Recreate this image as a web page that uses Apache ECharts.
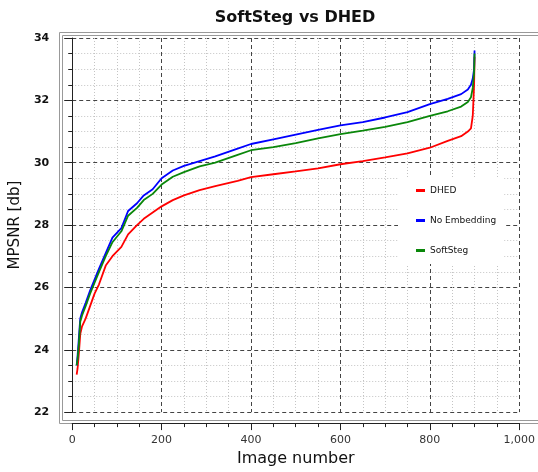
<!DOCTYPE html>
<html>
<head>
<meta charset="utf-8">
<script src="https://cdn.jsdelivr.net/npm/echarts@6/dist/echarts.min.js"></script>
<style>
    html, body { margin: 0; padding: 0; background: #fff; }
    #main { width: 538px; height: 472px; }
</style>
</head>
<body>
<div id="main"></div>
<script>
// image index (sorted by PSNR)
var imageIdx = [10, 12, 15, 18, 22, 30, 40, 50, 60, 75, 90, 110, 125, 145, 160, 180, 200, 225, 250, 285,
    320, 370, 400, 450, 500, 550, 600, 650, 700, 750, 800, 840, 870, 885, 892, 896, 899, 900];

var dhed = [23.2, 23.4, 23.9, 24.5, 24.75, 25.0, 25.4, 25.8, 26.1, 26.7, 27.0, 27.3, 27.7, 28.0, 28.2, 28.4, 28.6, 28.8, 28.95, 29.12,
    29.25, 29.42, 29.54, 29.63, 29.72, 29.82, 29.95, 30.05, 30.17, 30.3, 30.48, 30.7, 30.85, 31.0, 31.1, 31.5, 32.5, 33.4];

var noEmbedding = [23.5, 23.8, 24.4, 25.0, 25.2, 25.5, 25.9, 26.25, 26.6, 27.1, 27.6, 27.9, 28.45, 28.7, 28.95, 29.15, 29.5, 29.75, 29.9, 30.05,
    30.2, 30.45, 30.6, 30.75, 30.9, 31.05, 31.2, 31.3, 31.45, 31.62, 31.88, 32.05, 32.2, 32.35, 32.5, 32.7, 33.0, 33.6];

var softSteg = [23.5, 23.7, 24.2, 24.9, 25.1, 25.4, 25.8, 26.15, 26.5, 27.0, 27.45, 27.8, 28.3, 28.55, 28.8, 29.0, 29.3, 29.55, 29.7, 29.88,
    30.0, 30.25, 30.4, 30.5, 30.63, 30.78, 30.92, 31.03, 31.15, 31.3, 31.5, 31.65, 31.8, 31.95, 32.1, 32.4, 32.9, 33.5];

function pairs(vals) {
    return imageIdx.map(function (x, i) { return [x, vals[i]]; });
}

var myChart = echarts.init(document.getElementById('main'));
myChart.setOption({
    backgroundColor: '#fff',
    animation: false,
    title: {
        text: 'SoftSteg vs DHED',
        left: 290,
        textAlign: 'center',
        top: 5,
        textStyle: { fontFamily: 'DejaVu Sans', fontSize: 16, fontWeight: 'bold', color: '#111' }
    },
    graphic: [
        { type: 'rect', shape: { x: 59.5, y: 32.5, width: 500, height: 391 }, style: { fill: null, stroke: '#999', lineWidth: 1 }, z: 0 },
        { type: 'rect', shape: { x: 62.5, y: 35.5, width: 500, height: 385 }, style: { fill: null, stroke: '#999', lineWidth: 1 }, z: 0 }
    ],
    legend: {
        orient: 'vertical',
        left: 398,
        top: 178,
        backgroundColor: '#fff',
        padding: [8, 8, 9, 18],
        icon: 'rect',
        itemWidth: 9,
        itemHeight: 3,
        itemGap: 21,
        textStyle: { fontFamily: 'DejaVu Sans', fontSize: 9, color: '#111' },
        data: ['DHED', 'No Embedding', 'SoftSteg'],
        z: 5
    },
    grid: { left: 65, right: 15, top: 38, bottom: 55 },
    xAxis: {
        type: 'value',
        min: 0,
        max: 1000,
        interval: 200,
        offset: 11,
        name: 'Image number',
        nameLocation: 'middle',
        nameGap: 25,
        nameTextStyle: { fontFamily: 'DejaVu Sans', fontSize: 16, color: '#111' },
        axisLine: { show: true, lineStyle: { color: '#222', width: 1 } },
        axisTick: { show: true, length: 7, lineStyle: { color: '#222' } },
        minorTick: { show: true, splitNumber: 4, length: 4, lineStyle: { color: '#222' } },
        axisLabel: {
            margin: 12,
            fontFamily: 'DejaVu Sans',
            fontSize: 11,
            color: '#333',
            formatter: function (v) { return String(v).replace(/\B(?=(\d{3})+(?!\d))/g, ','); }
        },
        splitLine: { show: true, lineStyle: { color: '#444', type: [4, 3], width: 1 } },
        minorSplitLine: { show: true, lineStyle: { color: '#c4c4c4', type: [1, 2], width: 1 } }
    },
    yAxis: {
        type: 'value',
        min: 22,
        max: 34,
        interval: 2,
        offset: 10,
        name: 'MPSNR [db]',
        nameLocation: 'middle',
        nameGap: 34,
        nameTextStyle: { fontFamily: 'DejaVu Sans', fontSize: 15, color: '#111' },
        axisLine: { show: true, lineStyle: { color: '#222', width: 1 } },
        axisTick: { show: true, length: 8, lineStyle: { color: '#222' } },
        minorTick: { show: true, splitNumber: 4, length: 4, lineStyle: { color: '#222' } },
        axisLabel: {
            margin: 13,
            fontFamily: 'DejaVu Sans',
            fontSize: 11,
            fontWeight: 'bold',
            color: '#111'
        },
        splitLine: { show: true, lineStyle: { color: '#444', type: [4, 3], width: 1 } },
        minorSplitLine: { show: true, lineStyle: { color: '#c4c4c4', type: [1, 2], width: 1 } }
    },
    series: [
        {
            name: 'DHED',
            type: 'line',
            data: pairs(dhed),
            showSymbol: false,
            itemStyle: { color: '#ff0000' },
            lineStyle: { color: '#ff0000', width: 1.8 }
        },
        {
            name: 'No Embedding',
            type: 'line',
            data: pairs(noEmbedding),
            showSymbol: false,
            itemStyle: { color: '#0000ff' },
            lineStyle: { color: '#0000ff', width: 1.8 }
        },
        {
            name: 'SoftSteg',
            type: 'line',
            data: pairs(softSteg),
            showSymbol: false,
            itemStyle: { color: '#0a870a' },
            lineStyle: { color: '#0a870a', width: 1.8 }
        }
    ]
});
</script>
</body>
</html>
